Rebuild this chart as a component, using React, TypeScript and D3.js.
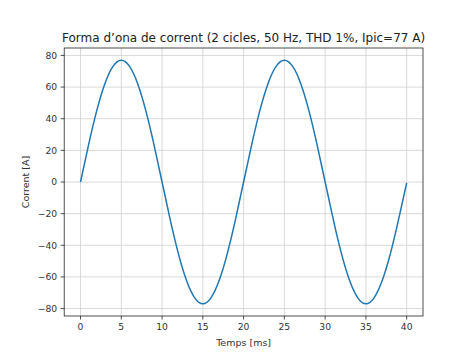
import React from "react";
import * as d3 from "d3";

const timeMs = [0,1,2,3,4,5,6,7,8,9,10,11,12,13,14,15,16,17,18,19,20,21,22,23,24,25,26,27,28,29,30,31,32,33,34,35,36,37,38,39,40];
const currentA = [0,23.8,45.3,62.3,73.2,77,73.2,62.3,45.3,23.8,0,-23.8,-45.3,-62.3,-73.2,-77,-73.2,-62.3,-45.3,-23.8,0,23.8,45.3,62.3,73.2,77,73.2,62.3,45.3,23.8,0,-23.8,-45.3,-62.3,-73.2,-77,-73.2,-62.3,-45.3,-23.8,-0.5];
const xTicks = [0,5,10,15,20,25,30,35,40];
const yTicks = [-80,-60,-40,-20,0,20,40,60,80];
const title = "Forma d\u2019ona de corrent (2 cicles, 50 Hz, THD 1%, Ipic=77 A)";
const xLabel = "Temps [ms]";
const yLabel = "Corrent [A]";

export default function App() {
  const W = 450, H = 354;
  const left = 64.2, right = 423, top = 48, bottom = 316;
  const x = d3.scaleLinear().domain([-2, 42]).range([left, right]);
  const y = d3.scaleLinear().domain([-84.7, 84.7]).range([bottom, top]);
  const pts = timeMs.map((t, i) => [t, currentA[i]] as [number, number]);
  const line = d3.line<[number, number]>().x(d => x(d[0])).y(d => y(d[1])).curve(d3.curveNatural);
  const font = "DejaVu Sans, sans-serif";
  const fmt = (v: number) => (v < 0 ? "\u2212" + Math.abs(v) : String(v));
  return (
    <svg width={W} height={H} style={{ position: "absolute", left: 0, top: 0 }}>
      <rect width={W} height={H} fill="#fff" />
      {xTicks.map(t => (
        <line key={"gx" + t} x1={x(t)} x2={x(t)} y1={top} y2={bottom} stroke="#cfcfcf" strokeWidth={0.8} />
      ))}
      {yTicks.map(t => (
        <line key={"gy" + t} x1={left} x2={right} y1={y(t)} y2={y(t)} stroke="#cfcfcf" strokeWidth={0.8} />
      ))}
      <path d={line(pts) || ""} fill="none" stroke="#1f77b4" strokeWidth={1.5} />
      <rect x={left} y={top} width={right - left} height={bottom - top} fill="none" stroke="#222" strokeWidth={0.8} />
      {xTicks.map(t => (
        <g key={"xt" + t}>
          <line x1={x(t)} x2={x(t)} y1={bottom} y2={bottom + 3.5} stroke="#222" strokeWidth={0.8} />
          <text x={x(t)} y={bottom + 14} textAnchor="middle" fontFamily={font} fontSize={9.2} fill="#333">{fmt(t)}</text>
        </g>
      ))}
      {yTicks.map(t => (
        <g key={"yt" + t}>
          <line x1={left - 3.5} x2={left} y1={y(t)} y2={y(t)} stroke="#222" strokeWidth={0.8} />
          <text x={left - 7} y={y(t) + 3.3} textAnchor="end" fontFamily={font} fontSize={9.2} fill="#333">{fmt(t)}</text>
        </g>
      ))}
      <text x={(left + right) / 2} y={345.5} textAnchor="middle" fontFamily={font} fontSize={9.5} fill="#333">{xLabel}</text>
      <text transform={`translate(29,${(top + bottom) / 2}) rotate(-90)`} textAnchor="middle" fontFamily={font} fontSize={9.5} fill="#333">{yLabel}</text>
      <text x={(left + right) / 2} y={41.5} textAnchor="middle" fontFamily={font} fontSize={12} fill="#222">{title}</text>
    </svg>
  );
}
